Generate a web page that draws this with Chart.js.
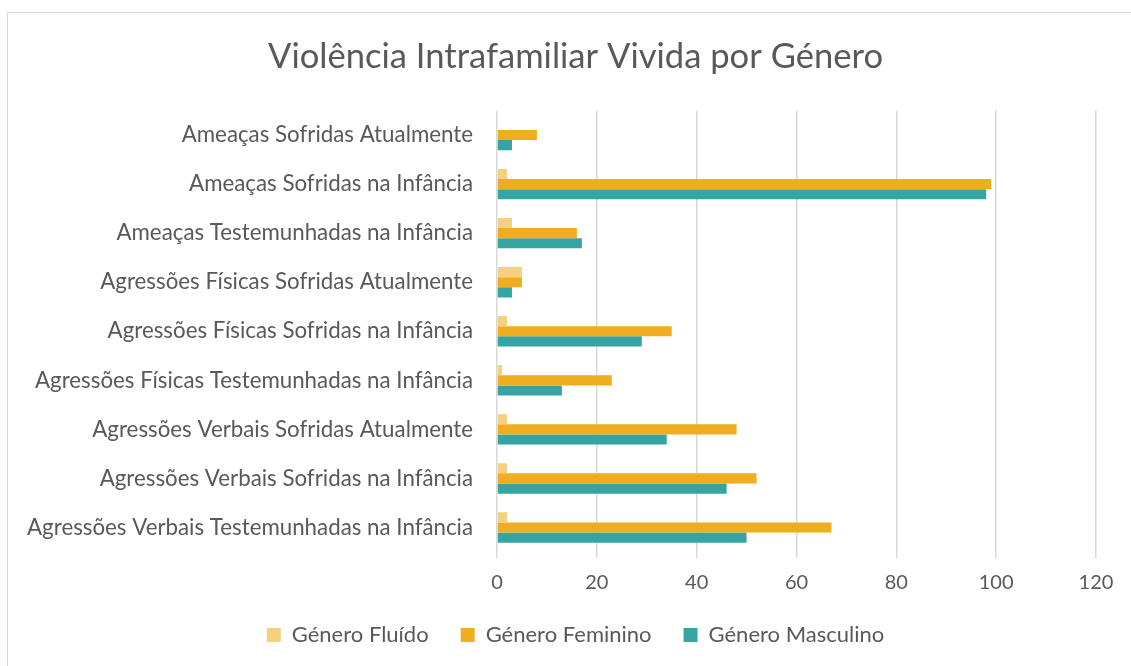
<!DOCTYPE html>
<html>
<head>
<meta charset="utf-8">
<script src="https://cdn.jsdelivr.net/npm/chart.js@4/dist/chart.umd.min.js"></script>
<style>
  html, body { margin: 0; padding: 0; background: #fff; }
  #wrap { position: relative; width: 1131px; height: 666px; }
  #frame { position: absolute; left: 7px; top: 12px; width: 1140px; height: 680px; border: 1px solid #d9d9d9; box-sizing: border-box; }
  canvas { position: absolute; left: 0; top: 0; }
</style>
</head>
<body>
<div id="wrap">
  <div id="frame"></div>
  <canvas id="chart" width="1131" height="666"></canvas>
</div>
<script>
// categorias (de cima para baixo)
const categories = [
  'Ameaças Sofridas Atualmente',
  'Ameaças Sofridas na Infância',
  'Ameaças Testemunhadas na Infância',
  'Agressões Físicas Sofridas Atualmente',
  'Agressões Físicas Sofridas na Infância',
  'Agressões Físicas Testemunhadas na Infância',
  'Agressões Verbais Sofridas Atualmente',
  'Agressões Verbais Sofridas na Infância',
  'Agressões Verbais Testemunhadas na Infância'
];

const fluido    = [0, 2, 3, 5, 2, 1, 2, 2, 2];
const feminino  = [8, 99, 16, 5, 35, 23, 48, 52, 67];
const masculino = [3, 98, 17, 3, 29, 13, 34, 46, 50];

const xTicks = [0, 20, 40, 60, 80, 100, 120];

const textColor = '#595959';
const font = "Lato, 'Open Sans', sans-serif";

// os rótulos longos passam para a esquerda do eixo: alarga a área de recorte
const unclipLabels = {
  id: 'unclipLabels',
  afterLayout(chart) {
    chart.scales.y.left = 0;
    chart.scales.x.bottom = chart.height;
  }
};

const ctx = document.getElementById('chart').getContext('2d');
new Chart(ctx, {
  type: 'bar',
  data: {
    labels: categories,
    datasets: [
      { label: 'Género Fluído', data: fluido, backgroundColor: '#F5D07E' },
      { label: 'Género Feminino', data: feminino, backgroundColor: '#F0AD1F' },
      { label: 'Género Masculino', data: masculino, backgroundColor: '#35A5A3' }
    ]
  },
  plugins: [unclipLabels],
  options: {
    indexAxis: 'y',
    responsive: false,
    animation: false,
    datasets: { bar: { categoryPercentage: 0.62, barPercentage: 1.0 } },
    layout: { padding: { left: 55, right: 35, top: 22, bottom: 10 } },
    scales: {
      x: {
        min: 0,
        max: 120,
        afterBuildTicks: (s) => { s.ticks = xTicks.map(v => ({ value: v })); },
        afterFit: (s) => { s.height = 40; },
        grid: { color: '#d9d9d9', lineWidth: 1.5, drawTicks: true, tickLength: 6 },
        border: { display: false },
        ticks: { color: textColor, font: { family: font, size: 20 }, padding: 13 }
      },
      y: {
        grid: { display: false },
        border: { display: false },
        afterFit: (s) => { s.width = 442; },
        ticks: { color: textColor, font: { family: font, size: 22.3 }, padding: 16, autoSkip: false }
      }
    },
    plugins: {
      title: {
        display: true,
        text: 'Violência Intrafamiliar Vivida por Género',
        color: textColor,
        font: { family: font, size: 34.6, weight: 'normal' },
        padding: { top: 14, bottom: 33 }
      },
      legend: {
        position: 'bottom',
        labels: {
          color: textColor,
          font: { family: font, size: 22 },
          boxWidth: 14,
          boxHeight: 14,
          padding: 32
        }
      },
      tooltip: { enabled: false }
    }
  }
});
</script>
</body>
</html>
